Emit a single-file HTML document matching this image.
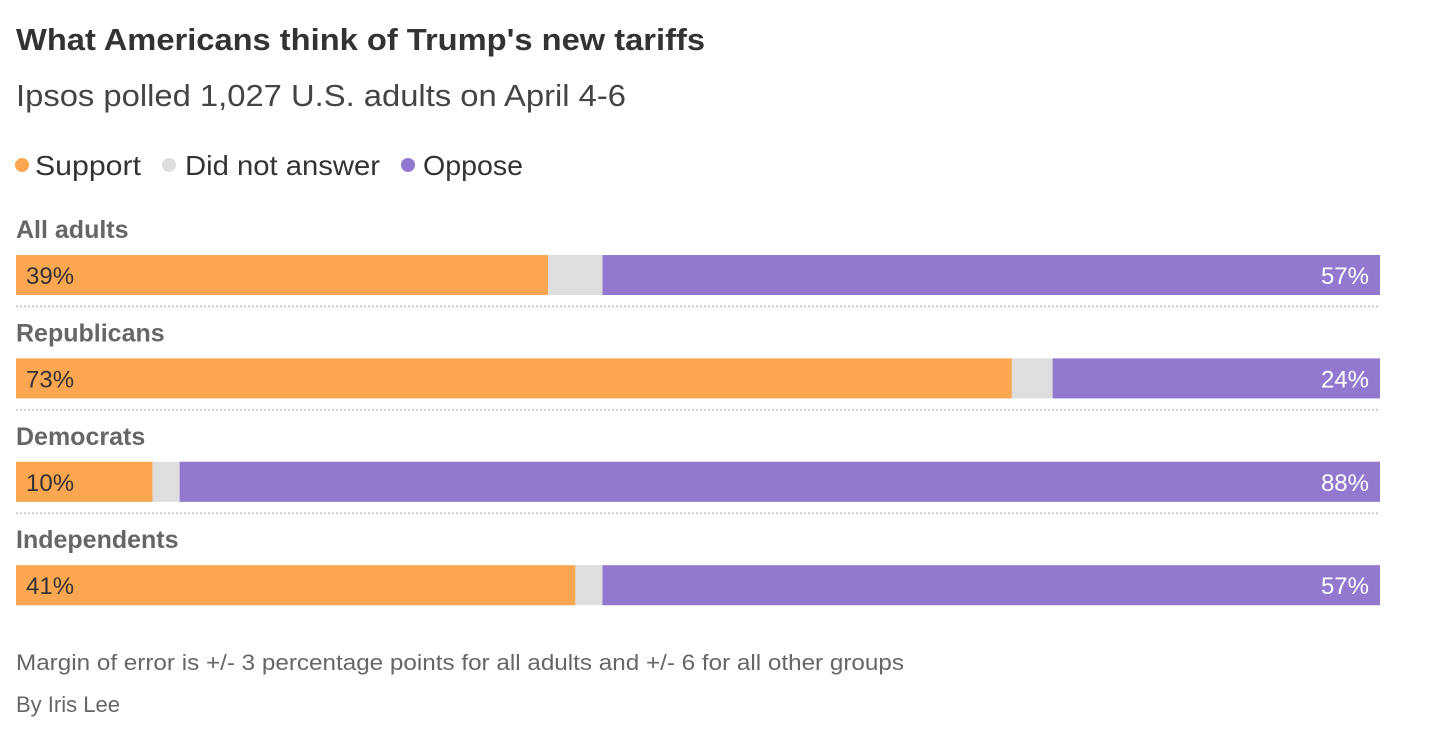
<!DOCTYPE html>
<html><head><meta charset="utf-8"><style>
body{margin:0;background:#fff;width:1438px;height:724px;overflow:hidden;font-family:"Liberation Sans",sans-serif;}
svg text{font-family:"Liberation Sans",sans-serif;}
</style></head><body>
<svg id="chart" width="1438" height="724">
<text x="16" y="50" font-size="31" font-weight="bold" fill="#333" textLength="689" lengthAdjust="spacingAndGlyphs">What Americans think of Trump's new tariffs</text>
<text x="16" y="106" font-size="31" fill="#444" textLength="610" lengthAdjust="spacingAndGlyphs">Ipsos polled 1,027 U.S. adults on April 4-6</text>
<g>
<circle cx="22" cy="165" r="7" fill="#fba751"/>
<text x="35" y="175" font-size="28" fill="#333" textLength="106" lengthAdjust="spacingAndGlyphs">Support</text>
<circle cx="169" cy="165" r="7" fill="#dedede"/>
<text x="185" y="175" font-size="28" fill="#333" textLength="195" lengthAdjust="spacingAndGlyphs">Did not answer</text>
<circle cx="408" cy="165" r="7" fill="#9378cf"/>
<text x="423" y="175" font-size="28" fill="#333" textLength="100" lengthAdjust="spacingAndGlyphs">Oppose</text>
</g>
<g id="bars"></g>
<text x="16" y="670" font-size="22" fill="#666" textLength="888" lengthAdjust="spacingAndGlyphs">Margin of error is +/- 3 percentage points for all adults and +/- 6 for all other groups</text>
<text x="16" y="712" font-size="22" fill="#666" textLength="104" lengthAdjust="spacingAndGlyphs">By Iris Lee</text>
</svg>
<script>
const groups=["All adults","Republicans","Democrats","Independents"];
const support=[39,73,10,41];
const oppose=[57,24,88,57];
const X0=16,X1=1380,W=X1-X0;
const xs=v=>X0+v/100*W;
const g=document.getElementById('bars');
const NS="http://www.w3.org/2000/svg";
function mk(tag,attrs){const e=document.createElementNS(NS,tag);for(const k in attrs)e.setAttribute(k,attrs[k]);g.appendChild(e);return e;}
groups.forEach((name,i)=>{
  const y=255+i*103.4;
  const lab=mk('text',{x:16,y:y-17,'font-size':25,'font-weight':'bold',fill:'#666'});
  lab.textContent=name;
  
  
  const bg=mk('rect',{x:X0,y:y,width:W,height:40,fill:'#dedede'});
  
  
  const s=mk('rect',{x:X0,y:y,width:xs(support[i])-X0,height:40,fill:'#fba751'});
  
  
  const ox=xs(100-oppose[i]);
  const o=mk('rect',{x:ox,y:y,width:X1-ox,height:40,fill:'#9378cf'});
  
  
  const st=mk('text',{x:26,y:y+29,'font-size':24,fill:'#333'});
  st.textContent=support[i]+'%';
  
  
  const ot=mk('text',{x:1369,y:y+29,'font-size':24,fill:'#fff','text-anchor':'end'});
  ot.textContent=oppose[i]+'%';
  
  
  if(i<groups.length-1){
    const l=mk('line',{x1:X0,x2:X1,y1:y+51.5,y2:y+51.5,stroke:'#ccc','stroke-width':2,'stroke-dasharray':'2 2'});
    
    
  }
});
</script>
</body></html>
